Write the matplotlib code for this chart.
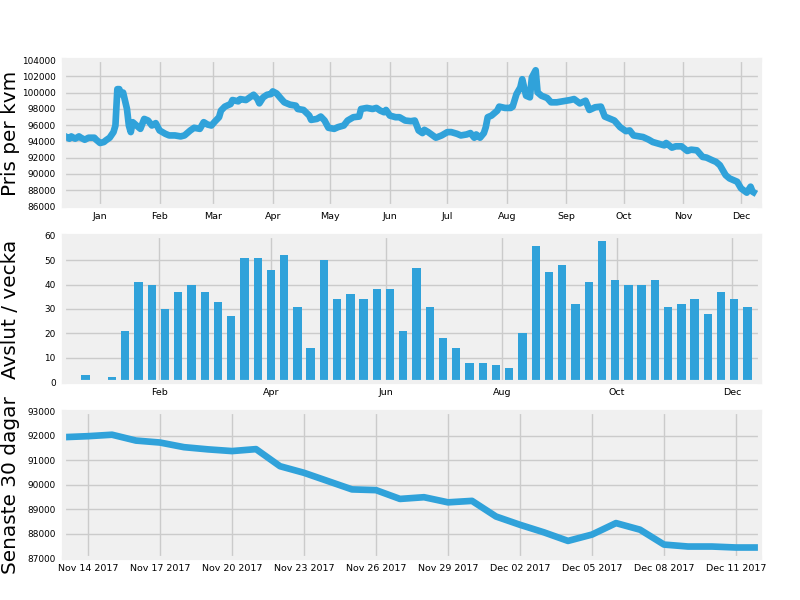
import datetime as dt

import matplotlib
matplotlib.use('Agg')
import matplotlib.pyplot as plt
import matplotlib.dates as mdates

plt.style.use('fivethirtyeight')

# Pris per kvm, dag räknat från 1 jan 2017
pris_dag = [-19, -16, -15, -13, -11, -10, -8, -6, -3, -2, 0, 2, 3, 5, 7, 8, 9, 10, 11, 12,
            14, 15, 16, 17, 19, 21, 23, 25, 27, 29, 31, 34, 36, 39, 42, 44, 47, 49, 52, 54,
            56, 58, 60, 62, 63, 65, 68, 69, 72, 73, 76, 78, 80, 82, 83, 85, 87, 89, 90, 92,
            94, 96, 99, 102, 103, 106, 109, 110, 113, 115, 117, 119, 122, 124, 127, 129, 132, 135, 136, 139,
            142, 144, 146, 148, 149, 151, 154, 156, 159, 162, 164, 166, 168, 169, 171, 174, 175, 178, 181, 183,
            186, 188, 191, 193, 195, 196, 198, 200, 201, 202, 204, 207, 208, 211, 214, 215, 217, 219, 220, 221,
            222, 224, 225, 227, 228, 230, 233, 235, 238, 241, 245, 247, 250, 253, 255, 258, 261, 263, 266, 268,
            271, 274, 276, 278, 281, 283, 286, 288, 291, 294, 295, 298, 300, 303, 306, 308, 311, 314, 316, 319,
            321, 323, 326, 328, 332, 334, 337, 339, 340, 342]
pris_kvm = [94730, 94330, 94610, 94330, 94610, 94450, 94200, 94450, 94450, 94200, 93800, 93920, 94120, 94450, 95140, 95950, 100420, 100420, 99800, 100000,
            98000, 95950, 95140, 96360, 95950, 95540, 96760, 96560, 95950, 96240, 95340, 94930, 94730, 94730, 94610, 94730, 95340, 95670, 95540, 96360,
            96070, 95950, 96480, 96970, 97780, 98270, 98590, 99080, 98920, 99200, 99080, 99410, 99730, 99200, 98670, 99410, 99730, 99810, 100140, 99890,
            99330, 98800, 98510, 98390, 97980, 97860, 97170, 96640, 96760, 97050, 96560, 95670, 95540, 95750, 95950, 96560, 96970, 97050, 97980, 98110,
            97980, 98110, 97780, 97580, 97860, 97170, 96970, 96970, 96560, 96480, 96560, 95340, 95020, 95420, 95140, 94610, 94450, 94730, 95140, 95140,
            94930, 94730, 94850, 95020, 94450, 94850, 94450, 95020, 95750, 96970, 97170, 97780, 98270, 98110, 98110, 98270, 99810, 100630, 101640, 100630,
            99610, 99410, 101850, 102740, 100020, 99610, 99330, 98800, 98800, 98920, 99080, 99200, 98670, 99000, 97860, 98190, 98270, 97050, 96760, 96560,
            95750, 95260, 95340, 94730, 94610, 94530, 94200, 93920, 93720, 93510, 93800, 93230, 93390, 93390, 92820, 92980, 92900, 92090, 92010, 91680,
            91480, 91070, 89850, 89450, 89040, 88230, 87700, 88430, 87820, 87540]

# Avslut per vecka, första veckan 24 dec 2016
vecka_start = dt.date(2016, 12, 24)
avslut = [3, 0, 2, 21, 41, 40, 30, 37, 40, 37, 33, 27, 51, 51, 46, 52, 31, 14, 50, 34,
          36, 34, 38, 38, 21, 47, 31, 18, 14, 8, 8, 7, 6, 20, 56, 45, 48, 32, 41, 58,
          42, 40, 40, 42, 31, 32, 34, 28, 37, 34, 31]

# Senaste 30 dagar, från 13 nov 2017
senaste_start = dt.date(2017, 11, 13)
senaste = [91950, 91990, 92050, 91810, 91730, 91540, 91450, 91380, 91460, 90760,
           90490, 90150, 89810, 89780, 89420, 89490, 89280, 89340, 88700, 88360,
           88050, 87700, 87960, 88430, 88160, 87550, 87470, 87470, 87430, 87430]

farg = '#30a2da'
nyar = dt.datetime(2017, 1, 1)

fig, axs = plt.subplots(3, 1, figsize=(8, 6), dpi=100)
fig.patch.set_facecolor('white')
fig.subplots_adjust(left=0.08, right=0.95, top=0.9, bottom=0.07, hspace=0.2)

# Pris per kvm
x1 = [nyar + dt.timedelta(days=d) for d in pris_dag]
axs[0].plot(x1, pris_kvm, color=farg, lw=4.8)
axs[0].set_xlim(nyar - dt.timedelta(days=18.8), nyar + dt.timedelta(days=343.9))
axs[0].set_ylim(86000, 104000)
axs[0].set_yticks(range(86000, 104001, 2000))
axs[0].xaxis.set_major_locator(mdates.MonthLocator())
axs[0].xaxis.set_major_formatter(mdates.DateFormatter('%b'))
axs[0].set_ylabel('Pris per kvm', fontsize=14.4)

# Avslut / vecka
x2 = [vecka_start + dt.timedelta(weeks=i) for i in range(len(avslut))]
axs[1].bar(x2, avslut, width=4.4, color=farg)
axs[1].set_xlim(dt.datetime(2016, 12, 12, 14), dt.datetime(2017, 12, 15, 14))
axs[1].set_ylim(0, 60)
axs[1].xaxis.set_major_locator(mdates.MonthLocator(bymonth=[2, 4, 6, 8, 10, 12]))
axs[1].xaxis.set_major_formatter(mdates.DateFormatter('%b'))
axs[1].set_ylabel('Avslut / vecka', fontsize=14.4)

# Senaste 30 dagar
x3 = [senaste_start + dt.timedelta(days=i) for i in range(len(senaste))]
axs[2].plot(x3, senaste, color=farg, lw=4.8)
axs[2].set_xlim(x3[0], x3[-1])
axs[2].set_ylim(87000, 93000)
axs[2].xaxis.set_major_locator(mdates.DayLocator(bymonthday=[2, 5, 8, 11, 14, 17, 20, 23, 26, 29]))
axs[2].xaxis.set_major_formatter(mdates.DateFormatter('%b %d %Y'))
axs[2].set_ylabel('Senaste 30 dagar', fontsize=14.4)

for ax in axs:
    ax.tick_params(axis='x', labelsize=6.8, pad=4)
    ax.tick_params(axis='y', labelsize=6.4, pad=6)
    ax.yaxis.set_label_coords(-0.063, 0.5)

fig.savefig('out.png', facecolor='white', edgecolor='white')
